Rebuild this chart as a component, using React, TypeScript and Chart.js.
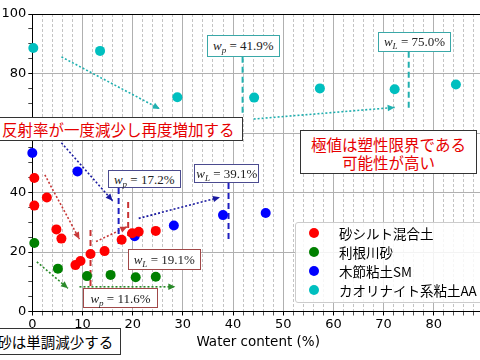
import React, { useEffect, useRef } from 'react';
import { Chart, registerables } from 'chart.js';
Chart.register(...registerables);

// ---- data ----
const seriesNames = ['砂シルト混合土', '利根川砂', '木節粘土SM', 'カオリナイト系粘土AA'];
const seriesColors = ['#ff0000', '#008000', '#0000ff', '#00bfbf'];

const sandSiltX = [0.4, 0.4, 2.9, 4.8, 5.8, 8.6, 9.6, 11.6, 14.4, 17.8, 19.9, 21.2, 24.6];
const sandSiltY = [44.9, 35.6, 38.3, 27.6, 24.5, 15.6, 17.0, 19.3, 20.3, 24.1, 26.3, 26.8, 27.1];
const toneX = [0.4, 5.1, 10.9, 15.6, 20.6, 24.6];
const toneY = [23.0, 14.4, 11.9, 12.3, 11.5, 11.7];
const kibushiX = [0.0, 9.0, 20.4, 28.2, 38.0, 46.5];
const kibushiY = [53.3, 47.1, 25.3, 28.9, 32.4, 33.1];
const kaolinX = [0.2, 13.5, 28.9, 44.2, 57.3, 72.2, 84.4];
const kaolinY = [88.6, 87.6, 72.0, 71.9, 75.0, 74.7, 76.3];

const seriesX = [sandSiltX, toneX, kibushiX, kaolinX];
const seriesY = [sandSiltY, toneY, kibushiY, kaolinY];

// consistency limits (dashed verticals)
const limitX = [41.9, 75.0, 17.2, 39.1, 19.1, 11.6];
const limitTop = [85.6, 87.3, 41.5, 43.2, 36.8, 27.4];
const limitBottom = [66.4, 67.2, 21.3, 23.0, 25.4, 7.9];
const limitColors = ['#22b0b0', '#22b0b0', '#1f1fc0', '#1f1fc0', '#c83232', '#c83232'];

// trend arrows (dotted)
const arrowX0 = [5.8, 44.1, 5.8, 21.2, 2.5, 12.7, 0.9, 9.4];
const arrowY0 = [85.6, 64.7, 56.7, 31.3, 45.9, 23.5, 16.7, 8.3];
const arrowX1 = [25.4, 72.2, 16.0, 37.4, 9.4, 18.9, 7.1, 28.5];
const arrowY1 = [68.1, 68.6, 37.2, 38.4, 24.3, 28.5, 7.8, 8.3];
const arrowColors = ['#20b0b0', '#20b0b0', '#1a1aa0', '#1a1aa0', '#c83a3a', '#c83a3a', '#2a8a2a', '#2a8a2a'];

const xTickMax = 80;

const arrowPlugin = {
  id: 'arrowHeads',
  afterDatasetsDraw(chart: any) {
    const ctx = chart.ctx;
    chart.data.datasets.forEach((ds: any, i: number) => {
      if (!ds.arrowHead) return;
      const pts = chart.getDatasetMeta(i).data;
      if (pts.length < 2) return;
      const a = pts[pts.length - 2];
      const b = pts[pts.length - 1];
      const ang = Math.atan2(b.y - a.y, b.x - a.x);
      const L = 7;
      const W = 3.2;
      const c = Math.cos(ang);
      const s = Math.sin(ang);
      ctx.save();
      ctx.fillStyle = ds.borderColor;
      ctx.beginPath();
      ctx.moveTo(b.x, b.y);
      ctx.lineTo(b.x - L * c + W * s, b.y - L * s - W * c);
      ctx.lineTo(b.x - L * c - W * s, b.y - L * s + W * c);
      ctx.closePath();
      ctx.fill();
      ctx.restore();
    });
  },
};

const tickFont = { family: "'DejaVu Sans'", size: 13 };

function buildConfig(): any {
  const datasets: any[] = [];
  seriesNames.forEach((name, k) => {
    datasets.push({
      label: name,
      data: seriesX[k].map((x, i) => ({ x, y: seriesY[k][i] })),
      backgroundColor: seriesColors[k],
      borderColor: seriesColors[k],
      borderWidth: 0,
      pointRadius: 5,
      pointHoverRadius: 5,
      clip: false,
    });
  });
  limitX.forEach((x, i) => {
    datasets.push({
      label: 'limit' + i,
      data: [
        { x, y: limitTop[i] },
        { x, y: limitBottom[i] },
      ],
      showLine: true,
      borderColor: limitColors[i],
      borderWidth: 2,
      borderDash: [6, 4],
      pointRadius: 0,
      pointHoverRadius: 0,
    });
  });
  arrowX0.forEach((x0, i) => {
    datasets.push({
      label: 'arrow' + i,
      data: [
        { x: x0, y: arrowY0[i] },
        { x: arrowX1[i], y: arrowY1[i] },
      ],
      showLine: true,
      borderColor: arrowColors[i],
      borderWidth: 1.6,
      borderDash: [2, 2],
      pointRadius: 0,
      pointHoverRadius: 0,
      arrowHead: true,
    });
  });

  return {
    type: 'scatter',
    data: { datasets },
    plugins: [arrowPlugin],
    options: {
      responsive: false,
      animation: false,
      devicePixelRatio: 1,
      layout: { padding: { top: 14, left: 0, right: 0, bottom: 0 } },
      plugins: { legend: { display: false }, tooltip: { enabled: false } },
      events: [],
      scales: {
        x: {
          type: 'linear',
          min: 0,
          max: 90,
          afterFit: (s: any) => {
            s.height = 48.5;
          },
          ticks: {
            stepSize: 2,
            autoSkip: false,
            includeBounds: false,
            maxRotation: 0,
            padding: 1,
            font: tickFont,
            color: '#000',
            callback: (v: number) => (v % 10 === 0 && v <= xTickMax ? String(v) : ''),
          },
          grid: {
            color: (c: any) => (c.tick && c.tick.value % 10 === 0 ? '#b0b0b0' : '#c4c4c4'),
            lineWidth: 1,
            tickLength: 4,
            tickColor: (c: any) => (c.tick && c.tick.value % 10 === 0 ? '#000' : '#555'),
          },
          border: {
            display: true,
            color: '#000',
            width: 1,
            dash: (c: any) => (c.tick && c.tick.value % 10 !== 0 ? [3, 2] : []),
          },
          title: {
            display: true,
            text: 'Water content (%)',
            color: '#000',
            font: { family: "'DejaVu Sans'", size: 13.5 },
            padding: { top: 0, bottom: 9 },
          },
        },
        x2: {
          type: 'linear',
          position: 'top',
          min: 0,
          max: 90,
          afterFit: (s: any) => {
            s.height = 0;
          },
          ticks: { display: false },
          grid: { display: false, drawTicks: false },
          border: { display: true, color: '#000', width: 1 },
        },
        y: {
          type: 'linear',
          min: 0,
          max: 100,
          afterFit: (s: any) => {
            s.width = 32.3;
          },
          ticks: {
            stepSize: 5,
            autoSkip: false,
            padding: 2,
            font: tickFont,
            color: '#000',
            callback: (v: number) => (v % 20 === 0 ? String(v) : ''),
          },
          grid: {
            color: (c: any) => (c.tick && c.tick.value % 20 === 0 ? '#b0b0b0' : 'rgba(0,0,0,0)'),
            lineWidth: 1,
            tickLength: 4,
            tickColor: (c: any) => (c.tick && c.tick.value % 20 === 0 ? '#000' : '#444'),
          },
          border: { display: true, color: '#000', width: 1 },
        },
      },
    },
  };
}

const serif = "'Liberation Serif', 'DejaVu Serif', serif";
const jp = "'Noto Sans CJK JP', 'Noto Sans', sans-serif";

function WBox(props: { left: number; top: number; width: number; height: number; border: string; sub: string; value: string }) {
  const { left, top, width, height, border, sub, value } = props;
  return (
    <div
      style={{
        position: 'absolute',
        left,
        top,
        width,
        height,
        boxSizing: 'border-box',
        border: `1.5px solid ${border}`,
        background: '#fff',
        display: 'flex',
        alignItems: 'center',
        justifyContent: 'center',
        fontFamily: serif,
        fontSize: 13,
        lineHeight: 1,
        color: '#222',
        whiteSpace: 'nowrap',
      }}
    >
      <span>
        <i>w</i>
        <i style={{ fontSize: 9, position: 'relative', top: 3 }}>{sub}</i>
        {' = ' + value + '%'}
      </span>
    </div>
  );
}

export default function App() {
  const ref = useRef<HTMLCanvasElement>(null);
  useEffect(() => {
    const chart = new Chart(ref.current as HTMLCanvasElement, buildConfig());
    return () => chart.destroy();
  }, []);

  const legendRows = [232.7, 251.7, 270.7, 290];

  return (
    <div style={{ position: 'fixed', left: 0, top: 0, width: 480, height: 360, overflow: 'hidden', background: '#fff' }}>
      <canvas ref={ref} width={489} height={360} style={{ position: 'absolute', left: 0, top: 0, width: 489, height: 360 }} />

      {/* callout: reflectance decreases then increases */}
      <div
        style={{
          position: 'absolute',
          left: -1,
          top: 116.7,
          width: 244,
          height: 24,
          boxSizing: 'border-box',
          border: '1px solid #333',
          background: '#fff',
          color: '#e60000',
          fontFamily: jp,
          fontSize: 15.5,
          lineHeight: '22px',
          paddingLeft: 2,
          whiteSpace: 'nowrap',
        }}
      >
        反射率が一度減少し再度増加する
      </div>

      {/* callout: extremum is likely plastic limit */}
      <div
        style={{
          position: 'absolute',
          left: 300,
          top: 130,
          width: 177,
          height: 44,
          boxSizing: 'border-box',
          border: '1px solid #333',
          background: '#fff',
          color: '#e60000',
          fontFamily: jp,
          fontSize: 15.5,
          lineHeight: '18.3px',
          paddingTop: 3.5,
          textAlign: 'center',
          whiteSpace: 'nowrap',
        }}
      >
        極値は塑性限界である
        <br />
        可能性が高い
      </div>

      {/* callout: monotonic decrease */}
      <div
        style={{
          position: 'absolute',
          left: -60,
          top: 328,
          width: 180.7,
          height: 27,
          boxSizing: 'border-box',
          border: '1px solid #333',
          background: '#fff',
          color: '#000',
          fontFamily: jp,
          fontSize: 14.5,
          lineHeight: '20px',
          paddingTop: 3,
          paddingRight: 6.5,
          textAlign: 'right',
          whiteSpace: 'nowrap',
        }}
      >
        利根川砂は単調減少する
      </div>

      <WBox left={206.7} top={35} width={73.3} height={21.7} border="#3aa8a8" sub="p" value="41.9" />
      <WBox left={378.3} top={31.7} width={72.4} height={20} border="#3aa8a8" sub="L" value="75.0" />
      <WBox left={107.7} top={170} width={73} height={18} border="#4b4b8f" sub="p" value="17.2" />
      <WBox left={194.3} top={163.5} width={65} height={19.5} border="#4b4b8f" sub="L" value="39.1" />
      <WBox left={127.5} top={248.5} width={73.5} height={21.5} border="#a04848" sub="L" value="19.1" />
      <WBox left={83} top={288} width={75} height={20} border="#a04848" sub="p" value="11.6" />

      {/* legend */}
      <div
        style={{
          position: 'absolute',
          left: 295,
          top: 221.5,
          width: 200,
          height: 81,
          boxSizing: 'border-box',
          border: '1px solid #cccccc',
          borderRadius: 3,
          background: 'rgba(255,255,255,0.85)',
        }}
      />
      {seriesNames.map((name, k) => (
        <React.Fragment key={name}>
          <div
            style={{
              position: 'absolute',
              left: 309,
              top: legendRows[k] - 5,
              width: 10,
              height: 10,
              borderRadius: '50%',
              background: seriesColors[k],
            }}
          />
          <div
            style={{
              position: 'absolute',
              left: 339,
              top: legendRows[k] - 9,
              height: 18,
              lineHeight: '18px',
              fontFamily: jp,
              fontSize: 13.5,
              color: '#000',
              whiteSpace: 'nowrap',
            }}
          >
            {name}
          </div>
        </React.Fragment>
      ))}
    </div>
  );
}
